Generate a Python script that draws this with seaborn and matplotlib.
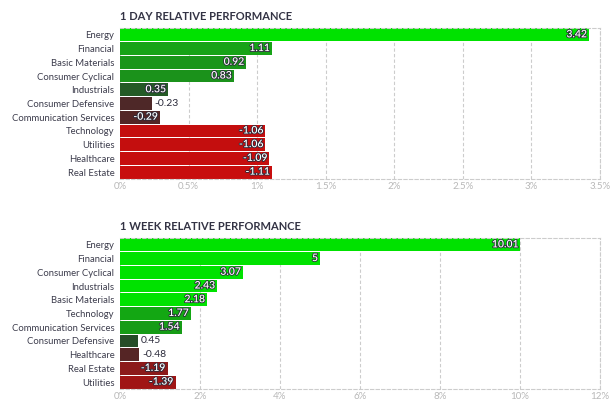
import numpy as np
import pandas as pd
import seaborn as sns
import matplotlib
matplotlib.use("Agg")
import matplotlib.pyplot as plt
import matplotlib.patheffects as pe

day_sectors = ["Energy", "Financial", "Basic Materials", "Consumer Cyclical", "Industrials",
               "Consumer Defensive", "Communication Services", "Technology", "Utilities",
               "Healthcare", "Real Estate"]
day_values = [3.42, 1.11, 0.92, 0.83, 0.35, -0.23, -0.29, -1.06, -1.06, -1.09, -1.11]

week_sectors = ["Energy", "Financial", "Consumer Cyclical", "Industrials", "Basic Materials",
                "Technology", "Communication Services", "Consumer Defensive", "Healthcare",
                "Real Estate", "Utilities"]
week_values = [10.01, 5, 3.07, 2.43, 2.18, 1.77, 1.54, 0.45, -0.48, -1.19, -1.39]

day_ticks = [0, 0.5, 1, 1.5, 2, 2.5, 3, 3.5]
day_tick_labels = ["0%", "0.5%", "1%", "1.5%", "2%", "2.5%", "3%", "3.5%"]
week_ticks = [0, 2, 4, 6, 8, 10, 12]
week_tick_labels = ["0%", "2%", "4%", "6%", "8%", "10%", "12%"]

day_colors = ["#00e200", "#17a317", "#1a961a", "#1b921b", "#245a26", "#4e2828", "#532626",
              "#c40e0e", "#c40e0e", "#c60e0e", "#c80e0e"]
week_colors = ["#00e200", "#00e200", "#00e200", "#00e200", "#00e200", "#13a713", "#169c16",
               "#264d28", "#552525", "#8c1a1a", "#a01515"]

sns.set_theme(style="white")
plt.rcParams["font.family"] = ["Lato", "DejaVu Sans"]

fig = plt.figure(figsize=(6.16, 4.08), dpi=100)
W, H = 616, 408


def panel(top_px, bottom_px, title, sectors, values, colors, ticks, tick_labels, xmax):
    ax = fig.add_axes([120 / W, 1 - bottom_px / H, 480 / W, (bottom_px - top_px) / H])
    df = pd.DataFrame({"sector": sectors, "mag": np.abs(values), "val": values})
    sns.barplot(data=df, x="mag", y="sector", hue="sector", palette=colors, legend=False,
                orient="h", width=0.93, linewidth=0, ax=ax, saturation=1)
    ax.set_xlim(0, xmax)
    ax.set_ylim(len(sectors) - 0.5, -0.5)
    ax.set_xticks(ticks)
    ax.set_xticklabels(tick_labels)
    ax.set_xlabel("")
    ax.set_ylabel("")
    ax.tick_params(axis="x", length=0, pad=2, labelsize=7, labelcolor="#b8b8b8")
    ax.tick_params(axis="y", length=0, pad=4, labelsize=6.8, labelcolor="#3c3c4c")
    ax.grid(axis="x", color="#cccccc", linestyle=(0, (3, 2)), linewidth=0.8)
    ax.grid(axis="y", visible=False)
    ax.set_axisbelow(True)
    for s in ["top", "right", "bottom"]:
        ax.spines[s].set_visible(True)
        ax.spines[s].set_color("#cccccc")
        ax.spines[s].set_linestyle((0, (3, 2)))
        ax.spines[s].set_linewidth(0.8)
    ax.spines["left"].set_visible(False)
    px_per_unit = 480 / xmax
    for i, v in enumerate(values):
        mag = abs(v)
        txt = f"{v:g}"
        if mag * px_per_unit > 36:
            ax.text(mag - 2 / px_per_unit, i, txt, ha="right", va="center", fontsize=7.5,
                    color="white", fontweight="semibold",
                    path_effects=[pe.withStroke(linewidth=1.2, foreground="#2a2a3a")])
        else:
            ax.text(mag + 3 / px_per_unit, i, txt, ha="left", va="center", fontsize=7.5,
                    color="#2a2a3a")
    fig.text(120 / W, 1 - (top_px - 8) / H, title, ha="left", va="baseline", fontsize=8,
             fontweight="bold", color="#333344")
    return ax


panel(28, 179, "1 DAY RELATIVE PERFORMANCE", day_sectors, day_values, day_colors,
      day_ticks, day_tick_labels, 3.5)
panel(238, 389, "1 WEEK RELATIVE PERFORMANCE", week_sectors, week_values, week_colors,
      week_ticks, week_tick_labels, 12)

fig.savefig("out.png", dpi=100)
